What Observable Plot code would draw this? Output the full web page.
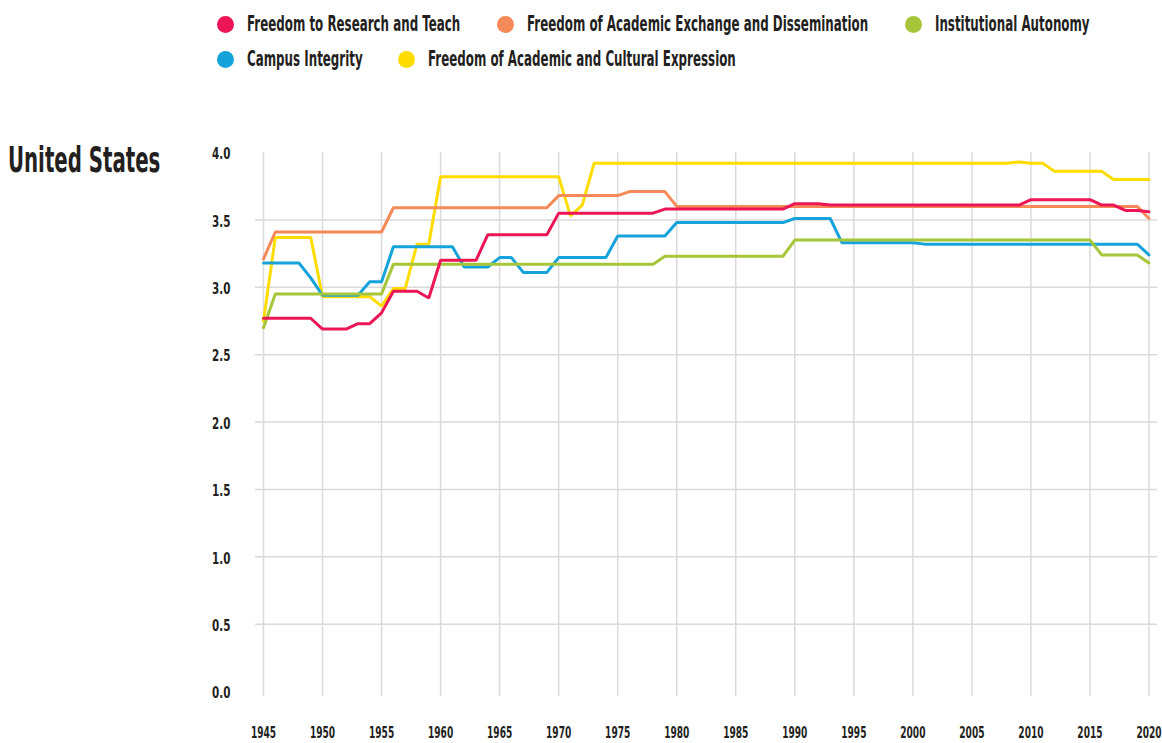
<!DOCTYPE html>
<html><head><meta charset="utf-8">
<script src="https://cdn.jsdelivr.net/npm/d3@7"></script>
<script src="https://cdn.jsdelivr.net/npm/@observablehq/plot@0.6"></script>
<style>
html,body{margin:0;padding:0;background:#fff;}
body{width:1162px;height:743px;overflow:hidden;position:relative;
  font-family:'Liberation Sans Narrow','DejaVu Sans Condensed','Roboto Condensed',sans-serif;font-weight:bold;color:#231f20;}
#legend{position:relative;height:130px;}
.dot{position:absolute;width:17px;height:17px;border-radius:50%;}
.lab{position:absolute;white-space:nowrap;line-height:1;font-size:22px;transform-origin:left center;transform:translateY(-50%) scaleX(0.6);}
#title{position:absolute;left:8px;top:160px;font-size:36px;line-height:1;white-space:nowrap;transform-origin:left center;transform:translateY(-50%) scaleX(0.61);}
#chart svg{display:block;}
</style></head>
<body>
<div id="legend"></div>
<div id="title">United States</div>
<div id="chart"></div>
<script>
// ---- data ----
const seriesNames = [
  "Freedom to Research and Teach",
  "Freedom of Academic Exchange and Dissemination",
  "Institutional Autonomy",
  "Campus Integrity",
  "Freedom of Academic and Cultural Expression"
];
const seriesColors = ["#ec1656", "#f58a58", "#a6c539", "#16a3dc", "#ffdc00"];
const firstYear = 1945, lastYear = 2020;
const xTicks = [1945,1950,1955,1960,1965,1970,1975,1980,1985,1990,1995,2000,2005,2010,2015,2020];
const yTicks = [0.0,0.5,1.0,1.5,2.0,2.5,3.0,3.5,4.0];
const yGrid = [0.5,1.0,1.5,2.0,2.5,3.0,3.5];

const research = [
  2.77,2.77,2.77,2.77,2.77,2.69,2.69,2.69,2.73,2.73,
  2.81,2.97,2.97,2.97,2.92,3.20,3.20,3.20,3.20,3.39,
  3.39,3.39,3.39,3.39,3.39,3.55,3.55,3.55,3.55,3.55,
  3.55,3.55,3.55,3.55,3.58,3.58,3.58,3.58,3.58,3.58,
  3.58,3.58,3.58,3.58,3.58,3.62,3.62,3.62,3.61,3.61,
  3.61,3.61,3.61,3.61,3.61,3.61,3.61,3.61,3.61,3.61,
  3.61,3.61,3.61,3.61,3.61,3.65,3.65,3.65,3.65,3.65,
  3.65,3.61,3.61,3.57,3.57,3.56];
const exchange = [
  3.21,3.41,3.41,3.41,3.41,3.41,3.41,3.41,3.41,3.41,
  3.41,3.59,3.59,3.59,3.59,3.59,3.59,3.59,3.59,3.59,
  3.59,3.59,3.59,3.59,3.59,3.68,3.68,3.68,3.68,3.68,
  3.68,3.71,3.71,3.71,3.71,3.60,3.60,3.60,3.60,3.60,
  3.60,3.60,3.60,3.60,3.60,3.60,3.60,3.60,3.60,3.60,
  3.60,3.60,3.60,3.60,3.60,3.60,3.60,3.60,3.60,3.60,
  3.60,3.60,3.60,3.60,3.60,3.60,3.60,3.60,3.60,3.60,
  3.60,3.60,3.60,3.60,3.60,3.51];
const autonomy = [
  2.70,2.95,2.95,2.95,2.95,2.95,2.95,2.95,2.95,2.95,
  2.95,3.17,3.17,3.17,3.17,3.17,3.17,3.17,3.17,3.17,
  3.17,3.17,3.17,3.17,3.17,3.17,3.17,3.17,3.17,3.17,
  3.17,3.17,3.17,3.17,3.23,3.23,3.23,3.23,3.23,3.23,
  3.23,3.23,3.23,3.23,3.23,3.35,3.35,3.35,3.35,3.35,
  3.35,3.35,3.35,3.35,3.35,3.35,3.35,3.35,3.35,3.35,
  3.35,3.35,3.35,3.35,3.35,3.35,3.35,3.35,3.35,3.35,
  3.35,3.24,3.24,3.24,3.24,3.18];
const campus = [
  3.18,3.18,3.18,3.18,3.07,2.94,2.94,2.94,2.94,3.04,
  3.04,3.30,3.30,3.30,3.30,3.30,3.30,3.15,3.15,3.15,
  3.22,3.22,3.11,3.11,3.11,3.22,3.22,3.22,3.22,3.22,
  3.38,3.38,3.38,3.38,3.38,3.48,3.48,3.48,3.48,3.48,
  3.48,3.48,3.48,3.48,3.48,3.51,3.51,3.51,3.51,3.33,
  3.33,3.33,3.33,3.33,3.33,3.33,3.32,3.32,3.32,3.32,
  3.32,3.32,3.32,3.32,3.32,3.32,3.32,3.32,3.32,3.32,
  3.32,3.32,3.32,3.32,3.32,3.24];
const expression = [
  2.75,3.37,3.37,3.37,3.37,2.93,2.93,2.93,2.93,2.93,
  2.86,2.99,2.99,3.32,3.32,3.82,3.82,3.82,3.82,3.82,
  3.82,3.82,3.82,3.82,3.82,3.82,3.53,3.61,3.92,3.92,
  3.92,3.92,3.92,3.92,3.92,3.92,3.92,3.92,3.92,3.92,
  3.92,3.92,3.92,3.92,3.92,3.92,3.92,3.92,3.92,3.92,
  3.92,3.92,3.92,3.92,3.92,3.92,3.92,3.92,3.92,3.92,
  3.92,3.92,3.92,3.92,3.93,3.92,3.92,3.86,3.86,3.86,
  3.86,3.86,3.80,3.80,3.80,3.80];

// ---- layout (not data) ----
const legendLayout = [[225,24],[505,24],[913,24],[225,59],[406,59]];
const seriesValues = [research, exchange, autonomy, campus, expression];
const drawOrder = [4, 1, 3, 2, 0];

// legend
const leg = document.getElementById("legend");
seriesNames.forEach((name, i) => {
  const [cx, cy] = legendLayout[i];
  const d = document.createElement("div");
  d.className = "dot";
  d.style.left = (cx - 8.5) + "px"; d.style.top = (cy - 8.5) + "px";
  d.style.background = seriesColors[i];
  leg.appendChild(d);
  const t = document.createElement("div");
  t.className = "lab";
  t.style.left = (cx + 22) + "px"; t.style.top = cy + "px";
  t.textContent = name;
  leg.appendChild(t);
});

// tidy table
const rows = [];
drawOrder.forEach(si => {
  seriesValues[si].forEach((v, k) => rows.push({year: firstYear + k, value: v, series: seriesNames[si]}));
});

const font = "'Liberation Sans Narrow','DejaVu Sans Condensed','Roboto Condensed',sans-serif";
const chart = Plot.plot({
  width: 1162,
  height: 613,
  marginTop: 22,
  marginBottom: 47,
  marginLeft: 255,
  marginRight: 5,
  style: {fontFamily: font, fontWeight: "bold", color: "#231f20", background: "#fff"},
  x: {domain: [firstYear, lastYear], insetLeft: 8, insetRight: 8.5},
  y: {domain: [0, 4], insetBottom: 5},
  color: {domain: seriesNames, range: seriesColors},
  marks: [
    Plot.ruleY(yGrid, {stroke: "#dadada", strokeWidth: 1.5}),
    Plot.ruleX(xTicks, {stroke: "#dadada", strokeWidth: 1.5}),
    Plot.axisY({ticks: yTicks, tickSize: 0, tickPadding: 25, tickFormat: d3.format(".1f"), label: null, fontSize: 15, dy: 2}),
    Plot.axisX({ticks: xTicks, tickSize: 0, tickPadding: 30, tickFormat: d => String(d), label: null, fontSize: 16}),
    Plot.line(rows, {x: "year", y: "value", z: "series", stroke: "series", strokeWidth: 3, strokeLinejoin: "miter"})
  ]
});
document.getElementById("chart").appendChild(chart);

// condense the tick label glyphs (the reference uses a condensed face)
function condense(sel, k) {
  chart.querySelectorAll(sel).forEach(t => {
    const tr = t.getAttribute("transform");
    if (tr) {
      t.setAttribute("transform", tr + ` scale(${k},1)`);
    } else {
      const w = t.getComputedTextLength();
      t.setAttribute("textLength", (w * k).toFixed(2));
      t.setAttribute("lengthAdjust", "spacingAndGlyphs");
    }
  });
}
condense('g[aria-label="x-axis tick label"] text', 0.63);
condense('g[aria-label="y-axis tick label"] text', 0.77);
</script>
</body></html>
